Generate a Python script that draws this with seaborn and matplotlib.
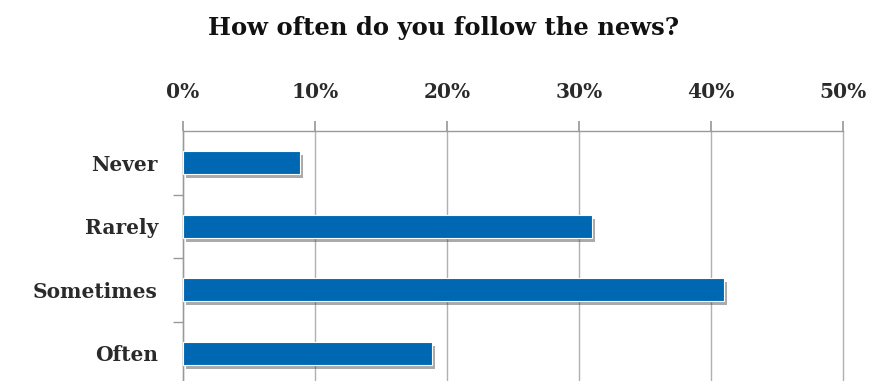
import matplotlib
matplotlib.use("Agg")
import matplotlib.pyplot as plt
import matplotlib.patheffects as pe
from matplotlib.ticker import PercentFormatter, FixedLocator
import pandas as pd
import seaborn as sns

categories = ['Never', 'Rarely', 'Sometimes', 'Often']
shares = [8.9, 31.0, 41.0, 18.9]
title = 'How often do you follow the news?'

df = pd.DataFrame({'answer': categories, 'share': shares})

sns.set_theme(style='white')
plt.rcParams['font.family'] = ['DejaVu Serif']

fig = plt.figure(figsize=(8.87, 3.81), dpi=100)
ax = fig.add_axes([183 / 887, -4 / 381, 660 / 887, 254 / 381])

sns.barplot(data=df, x='share', y='answer', orient='h', color='#0068b3',
            width=0.36, saturation=1, edgecolor='white', linewidth=0.8, ax=ax, zorder=3)
for bar in ax.patches:
    bar.set_path_effects([pe.SimplePatchShadow(offset=(2, -3), shadow_rgbFace='#444444', alpha=0.45),
                          pe.Normal()])

ax.set_xlim(0, 50)
ax.set_ylim(3.5, -0.5)
ax.xaxis.set_major_locator(FixedLocator([0, 10, 20, 30, 40, 50]))
ax.xaxis.set_major_formatter(PercentFormatter(decimals=0))
ax.xaxis.tick_top()
ax.grid(axis='x', color='#b0b0b0', linewidth=1, zorder=0)
for gl in ax.get_xgridlines():
    gl.set_clip_on(False)
ax.set_xlabel('')
ax.set_ylabel('')

for side in ['right', 'bottom']:
    ax.spines[side].set_visible(False)
for side in ['top', 'left']:
    ax.spines[side].set_color('#9a9a9a')
    ax.spines[side].set_linewidth(1)

ax.tick_params(axis='x', top=True, length=7, color='#9a9a9a', pad=14, labelsize=14.5, labelcolor='#2a2a2a')
ax.tick_params(axis='y', left=False, pad=12, labelsize=14.5, labelcolor='#2a2a2a')
ax.yaxis.set_minor_locator(FixedLocator([0.5, 1.5, 2.5]))
ax.tick_params(axis='y', which='minor', left=True, length=7, color='#9a9a9a', width=1)
for lab in ax.get_xticklabels() + ax.get_yticklabels():
    lab.set_fontweight('semibold')

fig.text(0.5, 1 - 28 / 381, title, ha='center', va='center', fontsize=17.5,
         fontweight='bold', color='#111111')

fig.savefig('out.png', dpi=100)
